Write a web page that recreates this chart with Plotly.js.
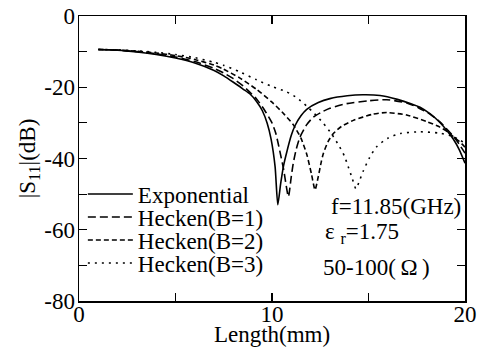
<!DOCTYPE html>
<html>
<head>
<meta charset="utf-8">
<script src="https://cdn.plot.ly/plotly-3.0.1.min.js"></script>
<style>html,body{margin:0;padding:0;background:#fff;}#chart{width:494px;height:347px;}</style>
</head>
<body>
<div id="chart"></div>
<script>
const seriesNames = ["Exponential", "Hecken(B=1)", "Hecken(B=2)", "Hecken(B=3)"];

const expLength = [1, 2, 3, 4, 5, 6, 7, 7.5, 8, 8.5, 8.86, 9.2, 9.5, 9.75, 9.95, 10.16, 10.3, 10.45, 10.6, 10.76, 11.0, 11.19, 11.5, 11.8, 12.4, 13, 13.9, 14.7, 15.6, 16.5, 17.2, 17.67, 18.2, 18.7, 19.1, 19.4, 19.7, 20];
const expS11 = [-9.4, -9.6, -10.1, -10.8, -11.8, -13.2, -15.3, -16.8, -18.6, -20.5, -21.9, -24, -26.6, -30.1, -34.5, -42.3, -53, -47, -42, -38.3, -33.5, -30.8, -28, -26.2, -24.3, -23.2, -22.4, -22.1, -22.3, -23.4, -24.6, -25.6, -27.5, -29.9, -32.4, -34.6, -37.5, -41.3];

const b1Length = [1, 2, 3, 4, 5, 6, 7, 7.5, 8, 8.5, 9.2, 9.6, 9.98, 10.2, 10.4, 10.6, 10.85, 11.0, 11.1, 11.25, 11.45, 11.8, 12.14, 12.6, 13, 13.87, 15, 15.94, 16.98, 17.6, 18.2, 18.7, 19.1, 19.4, 19.7, 20];
const b1S11 = [-9.4, -9.6, -10.0, -10.6, -11.5, -12.8, -14.7, -16, -17.6, -19.6, -23.3, -26.3, -29.8, -33, -37.8, -43, -50.7, -45, -41.4, -37.5, -34, -30.5, -28.4, -26.9, -25.9, -24.6, -23.8, -23.5, -24.4, -25.8, -27.6, -29.7, -32, -33.8, -36, -38.5];

const b2Length = [1, 2, 3, 4, 5, 6, 7, 7.48, 8.3, 9.2, 10, 10.6, 11.1, 11.5, 11.8, 12.05, 12.23, 12.4, 12.55, 12.66, 12.9, 13.18, 13.6, 14.21, 15.2, 15.94, 16.98, 18, 18.7, 19.1, 19.4, 19.7, 20];
const b2S11 = [-9.4, -9.55, -9.9, -10.4, -11.1, -12.2, -13.8, -14.9, -17.3, -20.6, -24.2, -27.4, -30.5, -34.3, -38.8, -44.5, -48.8, -45, -41, -38.6, -35.3, -33, -31, -29.3, -27.6, -27.1, -27.8, -29.6, -31.2, -32.5, -33.9, -35.2, -36.8];

const b3Length = [1, 2, 3, 4, 5, 6, 7, 7.48, 8.3, 9.2, 10, 10.76, 11.3, 11.8, 12.2, 12.66, 13.1, 13.5, 13.75, 13.95, 14.15, 14.35, 14.55, 14.73, 15.05, 15.42, 16, 16.63, 17.67, 18.7, 19.4, 20];
const b3S11 = [-9.4, -9.5, -9.8, -10.2, -10.8, -11.7, -13.0, -13.8, -15.6, -17.9, -19.8, -21.3, -23, -25.3, -27.4, -30.1, -33.2, -36.7, -39.3, -42.3, -45.5, -48.5, -46, -43.5, -39.8, -36.7, -34.3, -33, -32.5, -32.9, -33.9, -35.7];

const xTickVals = [0, 5, 10, 15, 20];
const xTickText = ["0", "", "10", "", "20"];
const yTickVals = [0, -10, -20, -30, -40, -50, -60, -70, -80];
const yTickText = ["0", "", "-20", "", "-40", "", "-60", "", "-80"];

const dashes = ["solid", "8px,4px", "5px,3px", "2px,5px"];
const xs = [expLength, b1Length, b2Length, b3Length];
const ys = [expS11, b1S11, b2S11, b3S11];
const legendIds = ["legend", "legend2", "legend3", "legend4"];
const legendY = [0.3754, 0.2947, 0.2140, 0.1333];

const traces = seriesNames.map((n, i) => ({
  x: xs[i], y: ys[i], name: n, type: "scatter", mode: "lines", legend: legendIds[i],
  line: {color: "#000", width: 1.6, dash: dashes[i], shape: "spline", smoothing: 0.6}
}));

const tf = {family: "Liberation Serif", size: 23, color: "#000"};

const axisCommon = {
  showline: true, linecolor: "#000", linewidth: 1.5, mirror: "ticks",
  ticks: "inside", ticklen: 8, tickwidth: 1.2, tickcolor: "#000",
  showgrid: false, zeroline: false, tickfont: tf
};

const layout = {
  width: 494, height: 347,
  margin: {l: 79, r: 29, t: 16, b: 46},
  paper_bgcolor: "#fff", plot_bgcolor: "#fff",
  font: tf,
  showlegend: true,
  xaxis: Object.assign({}, axisCommon, {
    range: [0, 20], tickmode: "array", tickvals: xTickVals, ticktext: xTickText,
    ticklabelstandoff: -8,
    title: {text: "Length(mm)", font: tf, standoff: 0}
  }),
  yaxis: Object.assign({}, axisCommon, {
    range: [-80, 0], tickmode: "array", tickvals: yTickVals, ticktext: yTickText,
    ticklabelstandoff: -2,
    title: {text: "|S<sub>11</sub>|(dB)", font: tf, standoff: 2}
  }),
  annotations: [
    {xref: "paper", yref: "paper", x: 0.995, y: 0.333, xanchor: "right", yanchor: "middle", showarrow: false,
     text: "f=11.85(GHz)", font: tf},
    {xref: "paper", yref: "paper", x: 0.632, y: 0.24, xanchor: "left", yanchor: "middle", showarrow: false,
     text: "ε <sub>r</sub>=1.75", font: tf},
    {xref: "paper", yref: "paper", x: 0.627, y: 0.116, xanchor: "left", yanchor: "middle", showarrow: false,
     text: "50-100(\u2009Ω\u2009)", font: tf}
  ]
};
legendIds.forEach((id, i) => {
  layout[id] = {x: 0.01, y: legendY[i], xanchor: "left", yanchor: "middle", bgcolor: "rgba(0,0,0,0)",
    font: tf, itemwidth: 45, borderwidth: 0};
});

Plotly.newPlot("chart", traces, layout, {displayModeBar: false, staticPlot: true});
</script>
</body>
</html>
